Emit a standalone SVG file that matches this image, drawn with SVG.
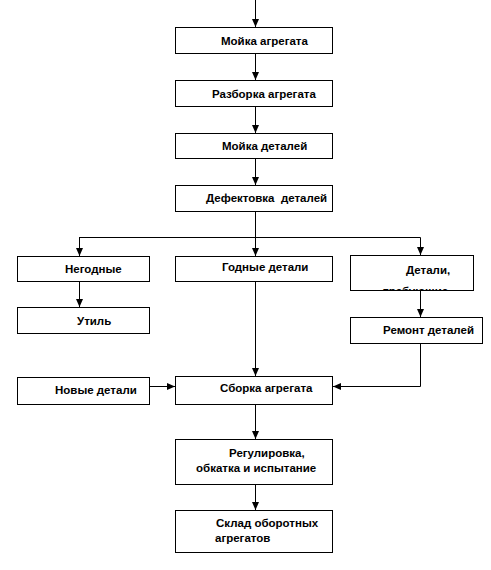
<svg xmlns="http://www.w3.org/2000/svg" width="491" height="570" viewBox="0 0 491 570">
<defs>
<marker id="arr" viewBox="0 0 8 8" refX="8" refY="4" markerWidth="8" markerHeight="8" markerUnits="userSpaceOnUse" orient="auto">
<path d="M0,0.5 L8,4 L0,7.5 Z" fill="#000"/>
</marker>
<clipPath id="clipDet"><rect x="350" y="255" width="124" height="35"/></clipPath>
</defs>
<style>
.box{fill:#fff;stroke:#000;stroke-width:1}
.t{font-family:"Liberation Sans",Arial,sans-serif;font-size:11.5px;font-weight:bold;fill:#000}
.c{fill:none;stroke:#000;stroke-width:1}
</style>
<rect width="491" height="570" fill="#fff"/>
<g id="connectors">
<line class="c" x1="255.5" y1="0" x2="255.5" y2="27" marker-end="url(#arr)"/>
<line class="c" x1="255.5" y1="53" x2="255.5" y2="80" marker-end="url(#arr)"/>
<line class="c" x1="255.5" y1="106" x2="255.5" y2="133" marker-end="url(#arr)"/>
<line class="c" x1="255.5" y1="158" x2="255.5" y2="185" marker-end="url(#arr)"/>
<line class="c" x1="255.5" y1="211" x2="255.5" y2="256" marker-end="url(#arr)"/>
<polyline class="c" points="79.5,256 79.5,237.5 420.5,237.5 420.5,255" marker-end="url(#arr)"/>
<line class="c" x1="79.5" y1="237" x2="79.5" y2="256" marker-end="url(#arr)"/>
<line class="c" x1="79.5" y1="282" x2="79.5" y2="307" marker-end="url(#arr)"/>
<line class="c" x1="420.5" y1="291" x2="420.5" y2="317" marker-end="url(#arr)"/>
<line class="c" x1="255.5" y1="282" x2="255.5" y2="376" marker-end="url(#arr)"/>
<line class="c" x1="150" y1="386.5" x2="175" y2="386.5" marker-end="url(#arr)"/>
<polyline class="c" points="420.5,343 420.5,386.5 333,386.5" marker-end="url(#arr)"/>
<line class="c" x1="255.5" y1="404" x2="255.5" y2="439" marker-end="url(#arr)"/>
<line class="c" x1="255.5" y1="485" x2="255.5" y2="510" marker-end="url(#arr)"/>
</g>
<g id="n1"><rect class="box" x="175.5" y="27.5" width="157" height="26"/><text class="t" x="221" y="45">Мойка агрегата</text></g>
<g id="n2"><rect class="box" x="175.5" y="80.5" width="157" height="26"/><text class="t" x="212" y="98">Разборка агрегата</text></g>
<g id="n3"><rect class="box" x="175.5" y="133.5" width="157" height="25"/><text class="t" x="222" y="150">Мойка деталей</text></g>
<g id="n4"><rect class="box" x="175.5" y="185.5" width="157" height="26"/><text class="t" x="206" y="202" xml:space="preserve">Дефектовка  деталей</text></g>
<g id="n5"><rect class="box" x="17.5" y="256.5" width="132" height="25"/><text class="t" x="65" y="273">Негодные</text></g>
<g id="n6"><rect class="box" x="175.5" y="256.5" width="157" height="25"/><text class="t" x="222" y="271">Годные детали</text></g>
<g id="n7"><rect class="box" x="350.5" y="255.5" width="123" height="35"/><g clip-path="url(#clipDet)"><text class="t" x="406" y="274">Детали,</text><text class="t" x="383" y="295">требующие</text></g></g>
<g id="n8"><rect class="box" x="17.5" y="307.5" width="132" height="26"/><text class="t" x="77" y="325">Утиль</text></g>
<g id="n9"><rect class="box" x="350.5" y="317.5" width="132" height="26"/><text class="t" x="383" y="334">Ремонт деталей</text></g>
<g id="n10"><rect class="box" x="17.5" y="377.5" width="132" height="27"/><text class="t" x="55" y="394">Новые детали</text></g>
<g id="n11"><rect class="box" x="175.5" y="376.5" width="157" height="28"/><text class="t" x="220" y="392">Сборка агрегата</text></g>
<g id="n12"><rect class="box" x="175.5" y="439.5" width="157" height="45"/><text class="t" x="229" y="457">Регулировка,</text><text class="t" x="196" y="472">обкатка и испытание</text></g>
<g id="n13"><rect class="box" x="175.5" y="510.5" width="157" height="42"/><text class="t" x="216" y="527">Склад оборотных</text><text class="t" x="215" y="542">агрегатов</text></g>
</svg>
